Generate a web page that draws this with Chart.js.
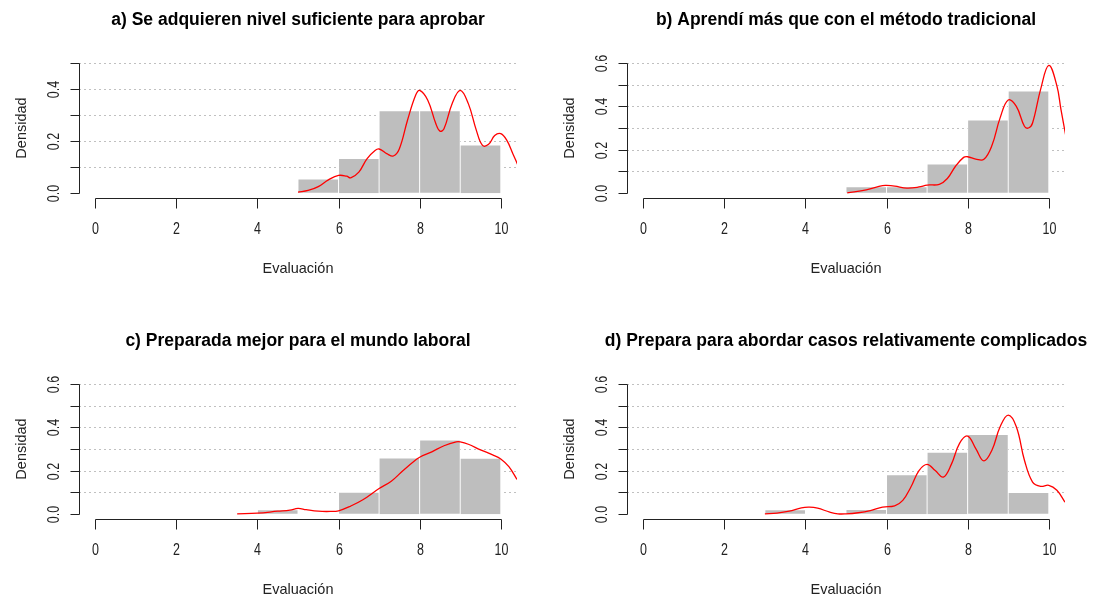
<!DOCTYPE html>
<html>
<head>
<meta charset="utf-8">
<script src="https://cdn.jsdelivr.net/npm/chart.js@4"></script>
<style>
  body { margin:0; background:#fff; }
  #wrap { position:relative; width:1097px; height:596px; overflow:hidden; }
  .panel { position:absolute; }
</style>
</head>
<body>
<div id="wrap">
  <canvas class="panel" id="pa" width="549" height="276" style="left:0;top:0"></canvas>
  <canvas class="panel" id="pb" width="549" height="276" style="left:548px;top:0"></canvas>
  <canvas class="panel" id="pc" width="549" height="275" style="left:0;top:321px"></canvas>
  <canvas class="panel" id="pd" width="549" height="275" style="left:548px;top:321px"></canvas>
</div>
<script>
// Títulos de los paneles
const titles = [
  "a) Se adquieren nivel suficiente para aprobar",
  "b) Aprendí más que con el método tradicional",
  "c) Preparada mejor para el mundo laboral",
  "d) Prepara para abordar casos relativamente complicados"
];
const xLabel = "Evaluación";
const yLabel = "Densidad";
const xTicks = [0, 2, 4, 6, 8, 10];
const yTicksA = [0, 0.1, 0.2, 0.3, 0.4, 0.5];
const yTicksB = [0, 0.1, 0.2, 0.3, 0.4, 0.5, 0.6];

// Histogramas (centro de clase, densidad)
const midsA = [5.5, 6.5, 7.5, 8.5, 9.5];
const histA = [0.053, 0.132, 0.316, 0.316, 0.184];
const midsB = [5.5, 6.5, 7.5, 8.5, 9.5];
const histB = [0.028, 0.028, 0.133, 0.337, 0.471];
const midsC = [4.5, 5.5, 6.5, 7.5, 8.5, 9.5];
const histC = [0.019, 0, 0.1, 0.258, 0.342, 0.257];
const midsD = [3.5, 4.5, 5.5, 6.5, 7.5, 8.5, 9.5];
const histD = [0.019, 0, 0.02, 0.181, 0.285, 0.367, 0.099];

// Curvas de densidad
const kdeXA = [5.0, 5.25, 5.5, 5.75, 6.0, 6.2, 6.3, 6.5, 6.7, 6.9, 7.0, 7.2, 7.35, 7.5, 7.7, 7.9, 8.0, 8.2, 8.4, 8.5, 8.6, 8.8, 9.0, 9.2, 9.4, 9.55, 9.7, 9.85, 10.0, 10.15, 10.3, 10.45];
const kdeYA = [0.003, 0.009, 0.024, 0.05, 0.067, 0.064, 0.058, 0.08, 0.131, 0.163, 0.169, 0.15, 0.142, 0.17, 0.28, 0.376, 0.395, 0.357, 0.266, 0.238, 0.247, 0.344, 0.395, 0.344, 0.24, 0.183, 0.187, 0.221, 0.228, 0.202, 0.15, 0.097];
const kdeXB = [5.03, 5.5, 5.9, 6.0, 6.2, 6.5, 6.8, 7.0, 7.3, 7.5, 7.7, 7.9, 8.0, 8.2, 8.4, 8.6, 8.8, 9.0, 9.2, 9.4, 9.5, 9.6, 9.8, 10.0, 10.2, 10.3, 10.42];
const kdeYB = [0.0, 0.014, 0.033, 0.034, 0.031, 0.022, 0.027, 0.036, 0.039, 0.066, 0.123, 0.164, 0.167, 0.156, 0.155, 0.22, 0.347, 0.43, 0.40, 0.308, 0.30, 0.323, 0.48, 0.59, 0.495, 0.386, 0.264];
const kdeXC = [3.5, 4.0, 4.5, 4.8, 5.0, 5.2, 5.5, 5.8, 6.0, 6.3, 6.6, 7.0, 7.3, 7.6, 7.9, 8.0, 8.3, 8.6, 8.9, 9.0, 9.2, 9.5, 9.8, 10.0, 10.2, 10.4];
const kdeYC = [0.0, 0.003, 0.012, 0.017, 0.025, 0.019, 0.012, 0.011, 0.014, 0.036, 0.065, 0.117, 0.151, 0.202, 0.249, 0.262, 0.287, 0.315, 0.333, 0.333, 0.322, 0.296, 0.273, 0.254, 0.218, 0.159];
const kdeXD = [3.0, 3.3, 3.6, 3.9, 4.1, 4.3, 4.6, 4.8, 5.0, 5.3, 5.6, 5.9, 6.2, 6.4, 6.6, 6.8, 7.0, 7.2, 7.4, 7.6, 7.8, 8.0, 8.2, 8.4, 8.6, 8.8, 9.0, 9.2, 9.4, 9.6, 9.8, 10.0, 10.2, 10.4];
const kdeYD = [0.0, 0.003, 0.012, 0.028, 0.031, 0.026, 0.008, 0.0, 0.0, 0.005, 0.015, 0.031, 0.037, 0.062, 0.124, 0.2, 0.229, 0.2, 0.17, 0.23, 0.326, 0.36, 0.302, 0.245, 0.295, 0.403, 0.457, 0.403, 0.248, 0.147, 0.127, 0.132, 0.109, 0.054];

const FONT = "'Liberation Sans', Arial, sans-serif";

function line(ctx, x1, y1, x2, y2) {
  ctx.beginPath(); ctx.moveTo(x1, y1); ctx.lineTo(x2, y2); ctx.stroke();
}

// texto estrecho (como las etiquetas de R en Windows)
function narrowText(ctx, txt, x, y, rot) {
  ctx.save();
  ctx.translate(x, y);
  if (rot) ctx.rotate(-Math.PI / 2);
  ctx.scale(0.78, 1);
  ctx.fillText(txt, 0, 0);
  ctx.restore();
}

// Ejes al estilo R
const rAxes = {
  id: 'rAxes',
  beforeDatasetsDraw(chart, args, o) {
    const { ctx, chartArea: a, scales: { y } } = chart;
    ctx.save();
    ctx.strokeStyle = '#c0c0c0';
    ctx.lineWidth = 1;
    ctx.setLineDash([2, 3]);
    o.yTicks.forEach(v => {
      if (v === 0) return;
      const py = Math.round(y.getPixelForValue(v)) + 0.5;
      line(ctx, a.left, py, a.right, py);
    });
    ctx.restore();
  },
  afterDraw(chart, args, o) {
    const { ctx, chartArea: a, scales: { x, y } } = chart;
    ctx.save();
    ctx.strokeStyle = '#222';
    ctx.fillStyle = '#222';
    ctx.lineWidth = 1;
    // eje y
    const ax = Math.round(a.left) + 0.5;
    const yTop = y.getPixelForValue(o.yTicks[o.yTicks.length - 1]);
    const y0 = y.getPixelForValue(0);
    line(ctx, ax, Math.round(y0) + 0.5, ax, Math.round(yTop) + 0.5);
    ctx.font = '16px ' + FONT;
    ctx.textAlign = 'center';
    ctx.textBaseline = 'alphabetic';
    o.yTicks.forEach(v => {
      const py = Math.round(y.getPixelForValue(v)) + 0.5;
      line(ctx, ax - 9, py, ax, py);
      if (Math.round(v * 10) % 2 === 0) narrowText(ctx, v.toFixed(1), 58.5, py, true);
    });
    // eje x
    const by = Math.round(a.bottom) + 0.5;
    line(ctx, Math.round(x.getPixelForValue(xTicks[0])) + 0.5, by,
         Math.round(x.getPixelForValue(xTicks[xTicks.length - 1])) + 0.5, by);
    xTicks.forEach(v => {
      const px = Math.round(x.getPixelForValue(v)) + 0.5;
      line(ctx, px, by, px, by + 10);
      narrowText(ctx, String(v), px, 233.5, false);
    });
    // títulos
    const cx = (a.left + a.right) / 2;
    ctx.font = '14.5px ' + FONT;
    ctx.fillText(xLabel, cx, 273);
    ctx.save();
    ctx.translate(25.5, (a.top + a.bottom) / 2);
    ctx.rotate(-Math.PI / 2);
    ctx.fillText(yLabel, 0, 0);
    ctx.restore();
    ctx.fillStyle = '#000';
    ctx.font = 'bold 17.5px ' + FONT;
    ctx.fillText(o.title, cx, 25);
    ctx.restore();
  }
};

function makePanel(id, title, mids, hist, kx, ky, yTicks, bottomPad) {
  const yMax = yTicks[yTicks.length - 1];
  const ext = yMax * 0.04;
  new Chart(document.getElementById(id), {
    data: {
      datasets: [
        {
          type: 'line',
          data: kx.map((v, i) => ({ x: v, y: ky[i] })),
          borderColor: '#ff0000',
          borderWidth: 1.3,
          pointRadius: 0,
          tension: 0.4,
          fill: false,
          order: 0
        },
        {
          type: 'bar',
          data: mids.map((v, i) => ({ x: v, y: hist[i] })),
          backgroundColor: '#bebebe',
          borderColor: '#ffffff',
          borderWidth: { left: 0.8, right: 0.8, top: 0.8, bottom: 0 },
          borderSkipped: false,
          categoryPercentage: 1,
          barPercentage: 1,
          order: 1
        }
      ]
    },
    options: {
      responsive: false,
      animation: false,
      devicePixelRatio: 1,
      layout: { padding: { left: 79, right: 32, top: 58, bottom: bottomPad } },
      scales: {
        x: { type: 'linear', min: -0.4, max: 10.4, offset: false, display: false },
        y: { type: 'linear', min: -ext, max: yMax + ext, display: false }
      },
      plugins: {
        legend: { display: false },
        tooltip: { enabled: false },
        rAxes: { title: title, yTicks: yTicks }
      }
    },
    plugins: [rAxes]
  });
}

makePanel('pa', titles[0], midsA, histA, kdeXA, kdeYA, yTicksA, 78);
makePanel('pb', titles[1], midsB, histB, kdeXB, kdeYB, yTicksB, 78);
makePanel('pc', titles[2], midsC, histC, kdeXC, kdeYC, yTicksB, 77);
makePanel('pd', titles[3], midsD, histD, kdeXD, kdeYD, yTicksB, 77);
</script>
</body>
</html>
